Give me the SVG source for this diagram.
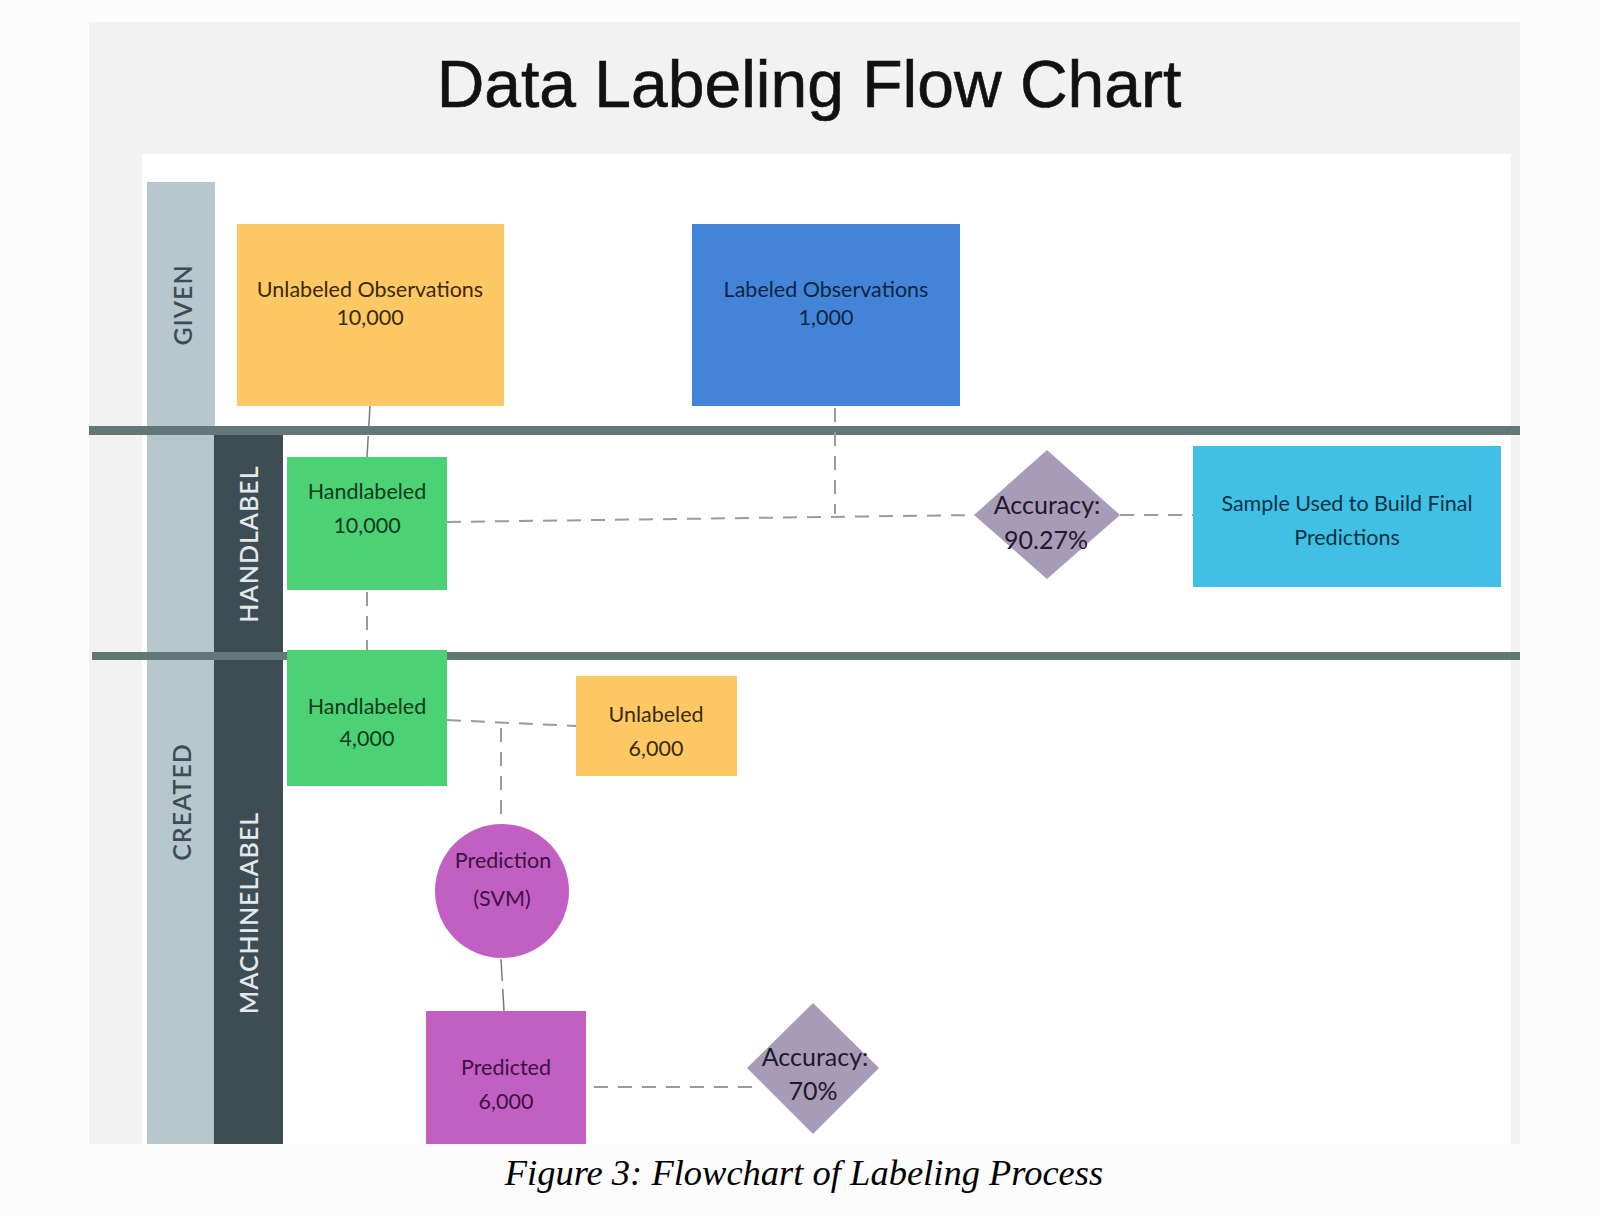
<svg xmlns="http://www.w3.org/2000/svg" width="1600" height="1216" viewBox="0 0 1600 1216">
<style>
.lbl{font-family:Lato,"Noto Sans",sans-serif;font-size:21.5px;text-anchor:middle}
.acc{font-size:25px}
.lane{font-family:Lato,"Noto Sans",sans-serif;font-size:25px;font-weight:600;text-anchor:middle;letter-spacing:1px}
.dash{fill:none;stroke:#9a9a9a;stroke-width:2;stroke-dasharray:14 10}
.band{fill:#627878}
</style>
<rect x="0" y="0" width="1600" height="1216" fill="#fcfcfc"/>
<rect x="89" y="22" width="1431" height="1122" fill="#f2f2f2"/>
<rect x="142" y="154" width="1369" height="990" fill="#ffffff"/>
<text x="809" y="107" font-family="Liberation Sans,Arial,sans-serif" font-size="66" text-anchor="middle" fill="#111" stroke="#111" stroke-width="0.6">Data Labeling Flow Chart</text>

<g id="lanes">
<rect x="147" y="182" width="68" height="962" fill="#b7c7ce"/>
<rect x="214" y="432" width="69" height="712" fill="#3e4d54"/>
<rect class="band" x="89" y="426" width="1431" height="9"/>
<rect class="band" x="92" y="652" width="1428" height="8"/>
<text class="lane" transform="translate(192,305) rotate(-90)" fill="#3e4d54">GIVEN</text>
<text class="lane" transform="translate(191,802) rotate(-90)" fill="#3e4d54">CREATED</text>
<text class="lane" transform="translate(258,544) rotate(-90)" fill="#e3e9eb">HANDLABEL</text>
<text class="lane" transform="translate(258,913) rotate(-90)" fill="#e3e9eb">MACHINELABEL</text>
</g>

<g id="connectors">
<path d="M370 406 L367 457" fill="none" stroke="#7a7a7a" stroke-width="1.5" stroke-dasharray="22 8"/>
<path class="dash" d="M367 592 L367 652"/>
<path class="dash" d="M835 408 L835 514"/>
<path class="dash" d="M447 522 L975 515"/>
<path class="dash" d="M1120 515 L1193 515"/>
<path class="dash" d="M447 720 L576 726"/>
<path class="dash" d="M501 728 L501 824"/>
<path d="M501 959 L504 1011" fill="none" stroke="#7a7a7a" stroke-width="1.5" stroke-dasharray="22 8"/>
<path class="dash" d="M594 1087 L757 1087"/>
</g>

<g id="unlabeled-obs">
<rect x="237" y="224" width="267" height="182" fill="#fec864"/>
<text class="lbl" x="370" y="297" fill="#3a2a10">Unlabeled Observations</text>
<text class="lbl" x="370" y="325" fill="#3a2a10">10,000</text>
</g>
<g id="labeled-obs">
<rect x="692" y="224" width="268" height="182" fill="#4384d9"/>
<text class="lbl" x="826" y="297" fill="#0e2640">Labeled Observations</text>
<text class="lbl" x="826" y="325" fill="#0e2640">1,000</text>
</g>
<g id="handlabeled-10000">
<rect x="287" y="457" width="160" height="133" fill="#4dd175"/>
<text class="lbl" x="367" y="499" fill="#0f3a1c">Handlabeled</text>
<text class="lbl" x="367" y="533" fill="#0f3a1c">10,000</text>
</g>
<g id="accuracy-9027">
<polygon points="1047,450 1120,515 1047,579 974,515" fill="#a89bb8"/>
<text class="lbl acc" x="1047" y="514" fill="#1e1a2a">Accuracy:</text>
<text class="lbl acc" x="1046" y="549" fill="#1e1a2a">90.27%</text>
</g>
<g id="sample-final">
<rect x="1193" y="446" width="308" height="141" fill="#40c0e4"/>
<text class="lbl" x="1347" y="511" fill="#0b3346">Sample Used to Build Final</text>
<text class="lbl" x="1347" y="545" fill="#0b3346">Predictions</text>
</g>
<g id="handlabeled-4000">
<rect x="287" y="650" width="160" height="136" fill="#4dd175"/>
<text class="lbl" x="367" y="714" fill="#0f3a1c">Handlabeled</text>
<text class="lbl" x="367" y="746" fill="#0f3a1c">4,000</text>
</g>
<g id="unlabeled-6000">
<rect x="576" y="676" width="161" height="100" fill="#fec864"/>
<text class="lbl" x="656" y="722" fill="#3a2a10">Unlabeled</text>
<text class="lbl" x="656" y="756" fill="#3a2a10">6,000</text>
</g>
<g id="prediction-svm">
<circle cx="502" cy="891" r="67" fill="#c25fc2"/>
<text class="lbl" x="503" y="868" fill="#3d1240">Prediction</text>
<text class="lbl" x="502" y="906" fill="#3d1240">(SVM)</text>
</g>
<g id="predicted-6000">
<rect x="426" y="1011" width="160" height="133" fill="#c25fc2"/>
<text class="lbl" x="506" y="1075" fill="#3d1240">Predicted</text>
<text class="lbl" x="506" y="1109" fill="#3d1240">6,000</text>
</g>
<g id="accuracy-70">
<polygon points="813,1003 879,1068 813,1134 747,1068" fill="#a89bb8"/>
<text class="lbl acc" x="815" y="1066" fill="#1e1a2a">Accuracy:</text>
<text class="lbl acc" x="813" y="1100" fill="#1e1a2a">70%</text>
</g>

<text x="804" y="1185" font-family="Liberation Serif,Times New Roman,serif" font-style="italic" font-size="36.5" text-anchor="middle" fill="#000">Figure 3: Flowchart of Labeling Process</text>
</svg>
